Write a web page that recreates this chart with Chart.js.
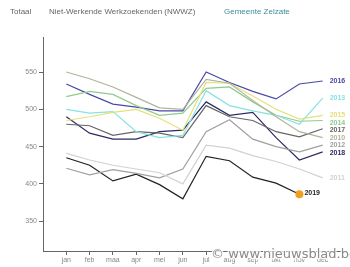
<!DOCTYPE html>
<html>
<head>
<meta charset="utf-8">
<script src="https://cdn.jsdelivr.net/npm/chart.js@4/dist/chart.umd.min.js"></script>
<style>
    html, body { margin: 0; padding: 0; background: #fff; }
    #wrap { position: relative; width: 350px; height: 267px; }
    #chart { position: absolute; left: 0; top: 0; }
    .t { position: absolute; top: 7px; font: 8px "Liberation Sans", Arial, sans-serif; color: #666; white-space: nowrap; }
</style>
</head>
<body>
<div id="wrap">
    <canvas id="chart" width="350" height="267"></canvas>
    <div class="t" style="left:10px">Totaal</div>
    <div class="t" style="left:49px">Niet-Werkende Werkzoekenden (NWWZ)</div>
    <div class="t" style="left:224px;color:#3b8c9c">Gemeente Zelzate</div>
</div>
<script>
document.addEventListener("DOMContentLoaded", function() {
    'use strict';

    var months = ['jan', 'feb', 'maa', 'apr', 'mei', 'jun', 'jul', 'aug', 'sep', 'okt', 'nov', 'dec'];
    var y_ticks = [350, 400, 450, 500, 550];

    var v2010 = [550, 541, 530, 516, 502, 500, 540, 535, 512, 490, 470, 462];
    var v2011 = [441, 432, 425, 420, 415, 400, 452, 448, 438, 430, 420, 408];
    var v2012 = [421, 412, 419, 414, 408, 420, 470, 486, 460, 450, 443, 452];
    var v2013 = [500, 495, 497, 470, 462, 465, 525, 505, 498, 492, 480, 515];
    var v2014 = [517, 524, 520, 505, 492, 495, 528, 530, 510, 492, 484, 485];
    var v2015 = [485, 490, 496, 500, 488, 472, 536, 535, 518, 500, 487, 492];
    var v2016 = [534, 520, 507, 503, 498, 498, 550, 536, 524, 514, 534, 538];
    var v2017 = [480, 478, 465, 470, 468, 462, 505, 490, 485, 470, 463, 474];
    var v2018 = [490, 468, 460, 460, 470, 472, 510, 492, 496, 462, 432, 443];
    var v2019 = [435, 425, 404, 413, 399, 380, 437, 431, 409, 401, 386, null];

    var series = [
        { label: '2011', values: v2011, color: '#d2d2d2' },
        { label: '2012', values: v2012, color: '#a0a0a0' },
        { label: '2010', values: v2010, color: '#b3b39c' },
        { label: '2015', values: v2015, color: '#e6e07a' },
        { label: '2013', values: v2013, color: '#88e2e2' },
        { label: '2014', values: v2014, color: '#8ccc8c' },
        { label: '2017', values: v2017, color: '#666666' },
        { label: '2018', values: v2018, color: '#2b2b66' },
        { label: '2016', values: v2016, color: '#4a48a8' },
        { label: '2019', values: v2019, color: '#222222' }
    ];

    var datasets = series.map(function(s) {
        var last = s.values.length - 1;
        while (s.values[last] === null) { last--; }
        return {
            label: s.label,
            data: s.values.map(function(v, i) { return { x: i, y: v }; }),
            borderColor: s.color,
            backgroundColor: s.label === '2019' ? '#f0a020' : s.color,
            borderWidth: 1.2,
            pointRadius: s.values.map(function(v, i) { return (s.label === '2019' && i === last) ? 4 : 0; }),
            pointBorderWidth: 0,
            tension: 0,
            spanGaps: false
        };
    });

    // year labels at the end of each line, pushed apart when they overlap
    var end_labels = {
        id: 'end_labels',
        afterDatasetsDraw: function(chart) {
            var ctx = chart.ctx;
            var items = [];
            chart.data.datasets.forEach(function(ds, i) {
                var meta = chart.getDatasetMeta(i);
                var pts = meta.data.filter(function(p, j) { return ds.data[j].y !== null; });
                var p = pts[pts.length - 1];
                items.push({ text: ds.label, color: ds.borderColor, x: p.x, y: p.y, dot: ds.label === '2019' });
            });
            var right = items.filter(function(it) { return !it.dot; }).sort(function(a, b) { return a.y - b.y; });
            for (var k = 1; k < right.length; k++) {
                if (right[k].y - right[k - 1].y < 7.5) {
                    right[k].y = right[k - 1].y + 7.5;
                }
            }
            ctx.save();
            ctx.font = 'bold 7px "Liberation Sans", Arial, sans-serif';
            ctx.textBaseline = 'middle';
            items.forEach(function(it) {
                ctx.fillStyle = it.color;
                ctx.fillText(it.text, it.x + (it.dot ? 5 : 7), it.y - (it.dot ? 1 : 0));
            });
            ctx.restore();
        },
        afterDraw: function(chart) {
            var ctx = chart.ctx;
            ctx.save();
            ctx.font = '13px "DejaVu Sans", sans-serif';
            ctx.textBaseline = 'alphabetic';
            ctx.lineWidth = 2.5;
            ctx.strokeStyle = 'rgba(255,255,255,0.9)';
            ctx.fillStyle = '#8a8a8a';
            ctx.strokeText('\u00a9 www.nieuwsblad.be', 211, 258);
            ctx.fillText('\u00a9 www.nieuwsblad.be', 211, 258);
            ctx.restore();
        }
    };

    new Chart(document.getElementById('chart').getContext('2d'), {
        type: 'line',
        data: { datasets: datasets },
        options: {
            responsive: false,
            animation: false,
            layout: { padding: { left: 0, top: 37, right: 4, bottom: 0 } },
            plugins: {
                legend: { display: false },
                tooltip: { enabled: false }
            },
            scales: {
                x: {
                    type: 'linear',
                    min: -1,
                    max: 12,
                    afterBuildTicks: function(scale) {
                        scale.ticks = months.map(function(m, i) { return { value: i }; });
                    },
                    afterFit: function(scale) { scale.height = 16; },
                    ticks: {
                        autoSkip: false,
                        maxRotation: 0,
                        padding: 1,
                        color: '#888',
                        font: { size: 7, family: '"Liberation Sans", Arial, sans-serif' },
                        callback: function(v) { return months[v] || ''; }
                    },
                    grid: { drawOnChartArea: false, drawTicks: true, tickLength: 4, color: '#666' },
                    border: { display: true, color: '#666', width: 1 }
                },
                y: {
                    min: 310,
                    max: 597,
                    afterBuildTicks: function(scale) {
                        scale.ticks = y_ticks.map(function(v) { return { value: v }; });
                    },
                    afterFit: function(scale) { scale.width = 43; },
                    ticks: {
                        padding: 2,
                        color: '#888',
                        font: { size: 7, family: '"Liberation Sans", Arial, sans-serif' }
                    },
                    grid: { drawOnChartArea: false, drawTicks: true, tickLength: 4, color: '#666' },
                    border: { display: true, color: '#666', width: 1 }
                }
            }
        },
        plugins: [end_labels]
    });
});
</script>
</body>
</html>
